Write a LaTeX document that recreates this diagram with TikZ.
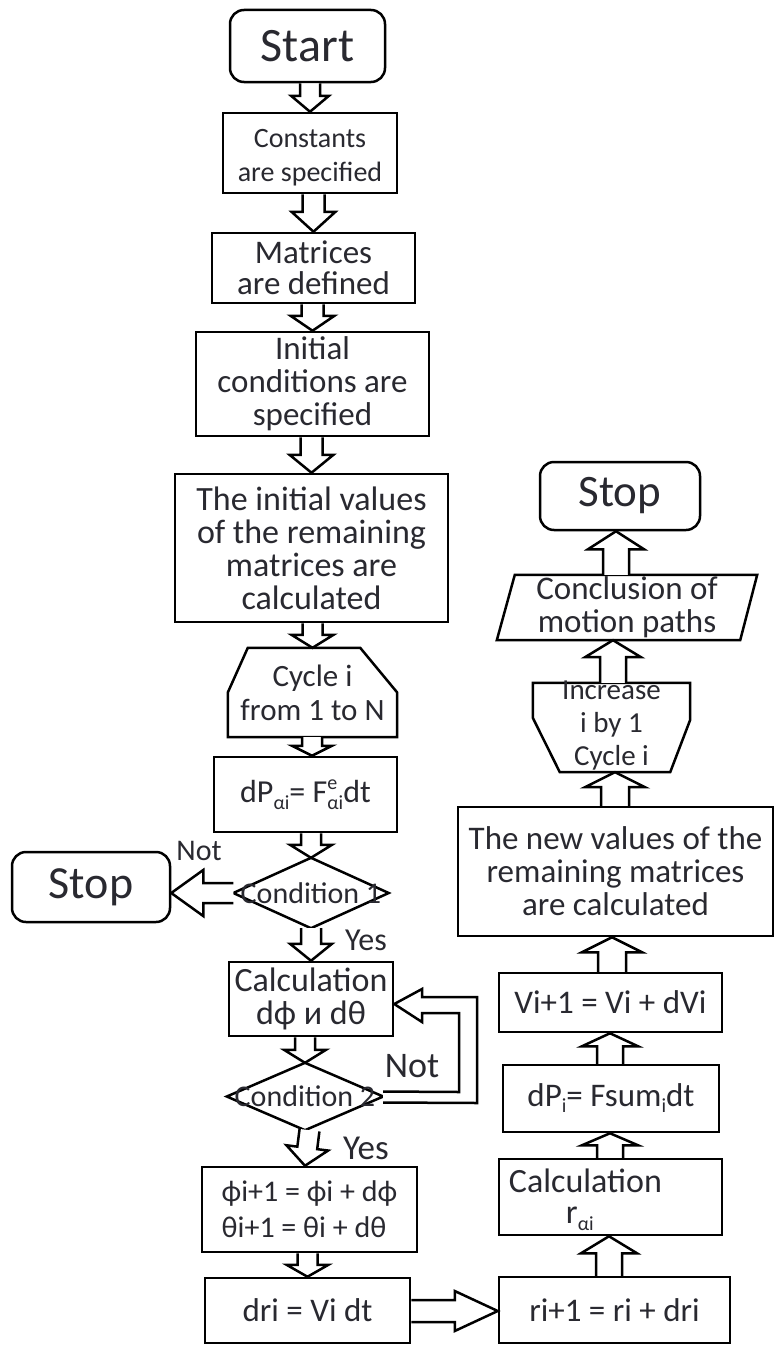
\documentclass[tikz,border=0pt]{standalone}
\usepackage{fontspec}
\setmainfont{Carlito}
\usetikzlibrary{calc}
\definecolor{txt}{rgb}{0.16,0.16,0.19}
\newcommand\fs[1]{\fontsize{#1}{#1}\selectfont}
\newcommand\fsl[2]{\fontsize{#1}{#2}\selectfont}
\newcommand\sbs[2]{\raisebox{-#1pt}{\fs{20}#2}}
% block arrow: #1 start, #2 tip, #3 shaft half width, #4 head half width, #5 head length
\newcommand\barrow[5]{%
  \path #1 coordinate (bs) #2 coordinate (bt);
  \path ($(bt)!#5!(bs)$) coordinate (bh);
  \filldraw[arr] ($(bs)!#3!90:(bt)$) -- ($(bh)!#3!90:(bt)$) -- ($(bh)!#4!90:(bt)$)
     -- (bt) -- ($(bh)!#4!-90:(bt)$) -- ($(bh)!#3!-90:(bt)$) -- ($(bs)!#3!-90:(bt)$);
}
\tikzset{
  x=1pt, y=-1pt,
  line/.style={draw, line width=2.5pt, line join=miter},
  box/.style={line, fill=white, inner sep=0pt, align=center, text=txt},
  term/.style={box, rounded corners=14pt},
  plain/.style={inner sep=0pt, align=center, text=txt},
  arr/.style={draw=black, line width=2.5pt, fill=white, line join=miter},
  lab/.style={inner sep=0pt, text=txt},
}
\begin{document}
\begin{tikzpicture}
\useasboundingbox[fill=white] (0,0) rectangle (774,1346);

% ---------- left column ----------
\node[term, minimum width=155pt, minimum height=72pt, font=\fs{48}] (start) at (307.5,46) {Start};
\node[box, minimum width=174pt, minimum height=80pt] (const) at (310,153) {};
\node[plain, font=\fsl{28}{34}] (constt) at ($(const.center)+(0,5)$) {Constants\\are specified};
\node[box, minimum width=203pt, minimum height=70pt, font=\fsl{33}{31}] (matr) at (313.5,268) {Matrices\\are defined};
\node[box, minimum width=233pt, minimum height=104pt, font=\fsl{33}{33}] (init) at (312.5,384) {Initial\\conditions are\\specified};
\node[box, minimum width=273pt, minimum height=148pt, font=\fsl{34}{33}] (initval) at (311.5,548) {The initial values\\of the remaining\\matrices are\\calculated};

\node[plain, minimum width=169pt, minimum height=89pt] (cycle) at (312.5,692.5) {};
\draw[line] (cycle.south west) -- (cycle.west) -- ($(cycle.north west)+(20,0)$)
  -- ($(cycle.north east)+(-37,0)$) -- (cycle.east) -- (cycle.south east) -- cycle;
\node[plain, font=\fsl{31}{34}] (cyclet) at (cycle.center) {Cycle i\\from 1 to N};

\node[box, minimum width=183pt, minimum height=75pt, font=\fs{32}] (dp) at (305.5,794.5)
  {dP\sbs{7}{αi}= F\rlap{\raisebox{13pt}{\fs{20}e}}\sbs{7}{αi}dt};

\node[plain, minimum width=155pt, minimum height=70pt] (cond1) at (311,893) {};
\draw[line] (cond1.north) -- (cond1.east) -- (cond1.south) -- (cond1.west) -- cycle;
\node[plain, font=\fs{30}] (cond1t) at (cond1.center) {Condition 1};

\node[term, minimum width=158pt, minimum height=70pt, font=\fs{46}] (stop1) at (91,887) {Stop};

\node[box, minimum width=164pt, minimum height=74pt, font=\fsl{34}{33}] (calc) at (311,999) {Calculation\\dϕ и dθ};

\node[plain, minimum width=156pt, minimum height=67pt] (cond2) at (305,1096.5) {};
\draw[line] (cond2.north) -- (cond2.east) -- (cond2.south) -- (cond2.west) -- cycle;
\node[plain, font=\fs{30}] (cond2t) at (cond2.center) {Condition 2};

\node[box, minimum width=215pt, minimum height=85pt, align=left, font=\fsl{30}{36}] (phi) at (309.5,1209.5)
  {ϕi+1 = ϕi + dϕ\\θi+1 = θi + dθ};
\node[box, minimum width=205pt, minimum height=65pt, font=\fs{33}] (dri) at (307.5,1310.5) {dri = Vi dt};

% ---------- right column ----------
\node[box, minimum width=231pt, minimum height=66pt, font=\fs{33}] (ri) at (614.5,1310) {ri+1 = ri + dri};
\node[box, minimum width=223pt, minimum height=76pt] (calcr) at (610.5,1197) {};
\node[plain, anchor=west, align=left, font=\fsl{34}{31}] (calcrt) at ($(calcr.west)+(11,3)$)
  {Calculation\\\hspace*{57pt}r\sbs{7}{αi}};
\node[box, minimum width=216pt, minimum height=67pt, font=\fs{33}] (dpi) at (611,1098.5)
  {dP\sbs{6}{i}= Fsum\sbs{6}{i}dt};
\node[box, minimum width=223pt, minimum height=59pt, font=\fs{33}] (vi) at (610.5,1002.5) {Vi+1 = Vi + dVi};
\node[box, minimum width=315pt, minimum height=129pt, font=\fsl{33}{33}] (newval) at (615.5,871.5)
  {The new values of the\\remaining matrices\\are calculated};

\node[plain, minimum width=157pt, minimum height=89pt] (incr) at (611.5,727.5) {};
\draw[line] (incr.north west) -- (incr.north east) -- ($(incr.north east)+(0,37)$)
  -- ($(incr.south east)+(-20,0)$) -- ($(incr.south west)+(27,0)$)
  -- ($(incr.north west)+(0,35)$) -- cycle;
\node[plain, font=\fsl{29}{33}] (incrt) at ($(incr.center)+(0,-2)$) {Increase\\i by 1\\Cycle i};

\node[plain, minimum width=260pt, minimum height=65pt] (concl) at (627,607.5) {};
\draw[line] ($(concl.north west)+(18,0)$) -- (concl.north east) -- ($(concl.south east)+(-17,0)$)
  -- (concl.south west) -- cycle;
\node[plain, font=\fsl{33}{33}] (conclt) at (concl.center) {Conclusion of\\motion paths};

\node[term, minimum width=160pt, minimum height=68pt, font=\fs{45}] (stop2) at (620,496) {Stop};

% ---------- arrows, left ----------
\barrow{(start.south -| const.north)}{(const.north)}{10pt}{19pt}{16pt}
\barrow{(const.south -| matr.north)}{(matr.north)}{11pt}{22pt}{20pt}
\barrow{(matr.south -| init.north)}{(init.north)}{11pt}{22pt}{15pt}
\barrow{(init.south -| initval.north)}{(initval.north)}{11pt}{22pt}{18pt}
\barrow{(initval.south -| cycle.north)}{(cycle.north)}{10pt}{21pt}{13pt}
\barrow{(cycle.south -| 312,0)}{(dp.north -| 312,0)}{10pt}{20pt}{10pt}
\barrow{(dp.south -| cond1.north)}{(cond1.north)}{10pt}{21pt}{13pt}
\barrow{(cond1.south -| calc.north)}{(calc.north)}{10pt}{21pt}{17pt}
\barrow{(calc.south -| cond2.north)}{(cond2.north)}{10pt}{21pt}{13pt}
\barrow{(cond2.south -| phi.north)}{(phi.north -| cond2.south)}{10pt}{21pt}{18pt}
\barrow{(phi.south -| dri.north)}{(dri.north)}{10pt}{21pt}{12pt}
\barrow{(cond1.west)}{(stop1.east |- cond1.west)}{10pt}{23pt}{32pt}
\barrow{(dri.east |- 0,1311)}{(ri.west |- 0,1311)}{11pt}{20pt}{43pt}

% loop arrow Condition 2 -> Calculation
\filldraw[arr] ($(cond2.east)+(0,6)$) -- (477,1103) -- (477,997) -- (422,997) -- (422,989)
  -- ($(calc.east)+(0,5)$) -- (422,1022) -- (422,1013) -- (459,1013) -- (459,1092)
  -- ($(cond2.east)+(0,-5)$);

% ---------- arrows, right ----------
\barrow{(ri.north -| 609,0)}{(calcr.south -| 609,0)}{13pt}{28pt}{17pt}
\barrow{(calcr.north -| 610,0)}{(dpi.south -| 610,0)}{13pt}{28pt}{12pt}
\barrow{(dpi.north -| 610,0)}{(vi.south -| 610,0)}{13pt}{28pt}{13pt}
\barrow{(vi.north -| 612,0)}{(newval.south -| 612,0)}{14pt}{30pt}{15pt}
\barrow{(newval.north -| 615,0)}{(incr.south -| 615,0)}{14pt}{30pt}{15pt}
\barrow{(incr.north -| 613,0)}{(concl.south -| 613,0)}{13pt}{28pt}{17pt}
\barrow{(concl.north -| 616,0)}{(stop2.south -| 616,0)}{13pt}{28pt}{18pt}

% ---------- labels ----------
\node[lab, font=\fs{30}] (not1) at (199,851) {Not};
\node[lab, font=\fs{32}] (yes1) at (366,940) {Yes};
\node[lab, font=\fs{36}] (not2) at (412,1066) {Not};
\node[lab, font=\fs{35}] (yes2) at (366,1148) {Yes};
\end{tikzpicture}
\end{document}
